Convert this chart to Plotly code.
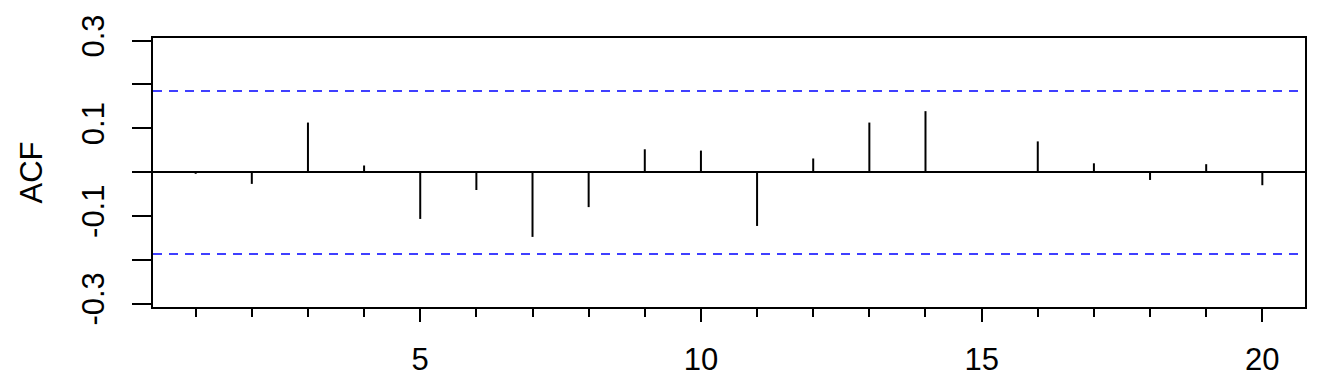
import plotly.graph_objects as go

lags = list(range(1, 21))
acf_values = [-0.004, -0.027, 0.113, 0.015, -0.107, -0.041, -0.148, -0.080,
              0.052, 0.049, -0.123, 0.031, 0.113, 0.139, 0.001, 0.070,
              0.020, -0.018, 0.018, -0.030]
ci_upper = 0.185
ci_lower = -0.187
y_tick_vals = [-0.3, -0.2, -0.1, 0.0, 0.1, 0.2, 0.3]
y_tick_text = ["-0.3", "", "-0.1", "", "0.1", "", "0.3"]
x_tick_vals = [5, 10, 15, 20]
x_tick_text = ["5", "10", "15", "20"]

FONT = "Liberation Sans, Arial, sans-serif"
FS = 31

seg_x, seg_y = [], []
for lag, v in zip(lags, acf_values):
    seg_x += [lag, lag, None]
    seg_y += [0, v, None]

fig = go.Figure()
fig.add_trace(go.Scatter(x=seg_x, y=seg_y, mode="lines",
                         line=dict(color="black", width=2),
                         hoverinfo="skip", showlegend=False))

fig.add_hline(y=0, line=dict(color="black", width=2))
fig.add_hline(y=ci_upper, line=dict(color="#0000FF", width=1.6, dash="9px,7px"))
fig.add_hline(y=ci_lower, line=dict(color="#0000FF", width=1.6, dash="9px,7px"))

fig.update_layout(
    width=1344, height=384,
    margin=dict(l=153, r=39, t=38, b=77),
    paper_bgcolor="white", plot_bgcolor="white",
    font=dict(family=FONT, size=FS, color="black"),
    showlegend=False,
)
fig.update_xaxes(
    range=[0.24, 20.76], showgrid=False, zeroline=False, automargin=False,
    showline=True, linecolor="black", linewidth=2, mirror=True,
    tickmode="array", tickvals=x_tick_vals, ticktext=x_tick_text,
    ticks="outside", ticklen=13, tickwidth=2, tickcolor="black",
    ticklabelstandoff=11,
    minor=dict(tickmode="linear", tick0=0, dtick=1, ticks="outside",
               ticklen=8, tickwidth=2, tickcolor="black", showgrid=False),
    tickfont=dict(size=FS),
)
fig.update_yaxes(
    range=[-0.308, 0.306], showgrid=False, zeroline=False, automargin=False,
    showline=True, linecolor="black", linewidth=2, mirror=True,
    tickmode="array", tickvals=y_tick_vals, ticktext=y_tick_text,
    ticks="outside", ticklen=19, tickwidth=2, tickcolor="black",
    tickangle=-90, ticklabelstandoff=16,
    tickfont=dict(size=FS),
    title=dict(text="ACF", font=dict(size=FS), standoff=24),
)

fig.write_html("out.html")
